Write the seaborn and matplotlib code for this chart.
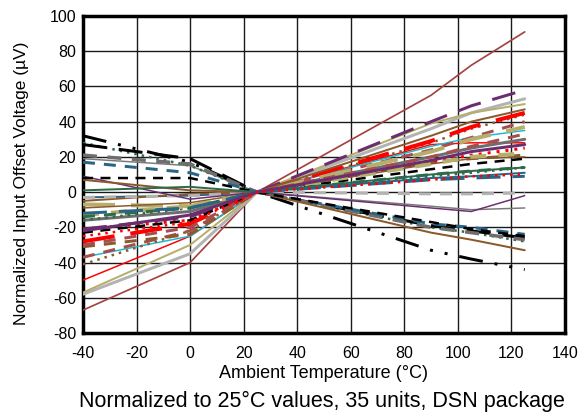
import numpy as np
import pandas as pd
import matplotlib
matplotlib.use("Agg")
import matplotlib.pyplot as plt
import seaborn as sns

# measurement temperatures (degC)
temps = [-40, 0, 25, 90, 105, 125]

# normalized offset (uV) of each unit at each temperature
offset_m40 = [-67, -58, -57, -50, -37, -41, -37, -31, -28, -21, -21, -23, -16, -16, -7, -9, -13, -14,
              -3, -5, -3, 19, 9, 32, 28, 27, 21, 17, 7, 8, 1, -12, -30, -22, -25]
offset_0 = [-40, -35, -30, -25, -25, -22, -22, -24, -18, -16, -14, -16, -11, -9, -8, -6, -8, -9,
            -2, -1, -2, 15, -4, 17, 15, 19, 16, 11, 1, 8, 3, -9, -20, -13, -17]
offset_25 = [0] * 35
offset_90 = [55, 36, 39, 27, 26, 28, 24, 17, 29, 17, 40, 13, 20, 9, 23, 16, 16, 10,
             8, 32, -1, -8, -9, -33, -20, -19, -20, -18, -23, -17, 10, 7, 20, 18, 7]
offset_105 = [72, 45, 45, 28, 31, 36, 31, 19, 37, 21, 49, 16, 25, 11, 30, 19, 20, 12,
              9, 40, -1, -10, -11, -38, -23, -22, -23, -20, -27, -21, 12, 8, 26, 23, 9]
offset_125 = [91, 53, 50, 28, 35, 44, 40, 21, 45, 25, 58, 19, 30, 14, 37, 20, 22, 14,
              11, 47, -0.5, -9, -2, -44, -28, -26, -27, -24, -33, -25, 14, 9, 33, 27, 10]

# line looks (colour, width, dash)
dkred, ltgray, khaki, red, cyan = "#A3423E", "#B3B3B3", "#B5AE6C", "#FF0000", "#1DB9D0"
brown, purple, dkgray, dkgreen, teal = "#8A5A2C", "#6B2D6E", "#6E6E6E", "#2E6B4A", "#2A6586"
solid, dot, dash, ldash, ddd = "-", (0, (1, 2)), (0, (4, 3)), (0, (8, 4)), (0, (8, 4, 1, 4, 1, 4))

colors = [dkred, ltgray, khaki, red, cyan, brown, "#A84D4D", brown, red, red, purple, "black", dkgray,
          dkgreen, khaki, brown, khaki, dkgreen, teal, brown, ltgray, "#7A7A7A", purple, "black",
          dkgreen, "black", dkgray, teal, brown, "black", dkgreen, teal, "#A84D4D", purple, red]
widths = [1.7, 3, 2, 1.5, 1.5, 2.5, 3, 3, 4, 3, 3, 2.5, 3, 2.5, 4, 1.5, 4, 3,
          2, 2, 3, 1.5, 1.5, 3, 2.5, 3, 3.5, 3, 2, 2.5, 2, 3, 3, 3, 2.5]
dashes = [solid, solid, solid, solid, solid, dot, dash, dash, ldash, dot, ldash, dash, solid, dot,
          ldash, solid, dash, dash, solid, solid, dash, solid, solid, ddd, dot, ldash, dash, dash,
          solid, dash, solid, ldash, dash, solid, dot]

table = np.array([offset_m40, offset_0, offset_25, offset_90, offset_105, offset_125])
rows = []
for unit in range(table.shape[1]):
    for t, v in zip(temps, table[:, unit]):
        rows.append({"unit": unit, "temp": t, "offset": v})
df = pd.DataFrame(rows)

sns.set_style("white")
plt.rcParams["font.family"] = ["Liberation Sans", "DejaVu Sans"]
plt.rcParams["axes.unicode_minus"] = False
plt.rcParams["text.color"] = "black"
plt.rcParams["axes.labelcolor"] = "black"
plt.rcParams["xtick.color"] = "black"
plt.rcParams["ytick.color"] = "black"

fig = plt.figure(figsize=(5.86, 4.16), dpi=100)
ax = fig.add_axes([0.1416, 0.1995, 0.8224, 0.762])

for unit, grp in df.groupby("unit"):
    sns.lineplot(data=grp, x="temp", y="offset", ax=ax, color=colors[unit],
                 linewidth=widths[unit] * 0.72, linestyle=dashes[unit], errorbar=None,
                 dash_capstyle="butt", zorder=3)

ax.set_xlim(-40, 140)
ax.set_ylim(-80, 100)
ax.set_xticks(range(-40, 141, 20))
ax.set_yticks(range(-80, 101, 20))
ax.grid(True, color="#1a1a1a", linewidth=1.0)
ax.set_axisbelow(True)
for s in ax.spines.values():
    s.set_visible(True)
    s.set_color("black")
    s.set_linewidth(2.5)
ax.tick_params(axis="y", labelsize=11.5, length=0, pad=5)
ax.tick_params(axis="x", labelsize=11.5, length=0, pad=9)
ax.set_xlabel("Ambient Temperature (\u00b0C)", fontsize=13, labelpad=3)
ax.set_ylabel("Normalized Input Offset Voltage (\u00b5V)", fontsize=12.5)
ax.yaxis.set_label_coords(-0.112, 0.473)

fig.text(0.55, 0.036, "Normalized to 25\u00b0C values, 35 units, DSN package",
         ha="center", va="center", fontsize=15.5)

fig.savefig("out.png", dpi=100)
